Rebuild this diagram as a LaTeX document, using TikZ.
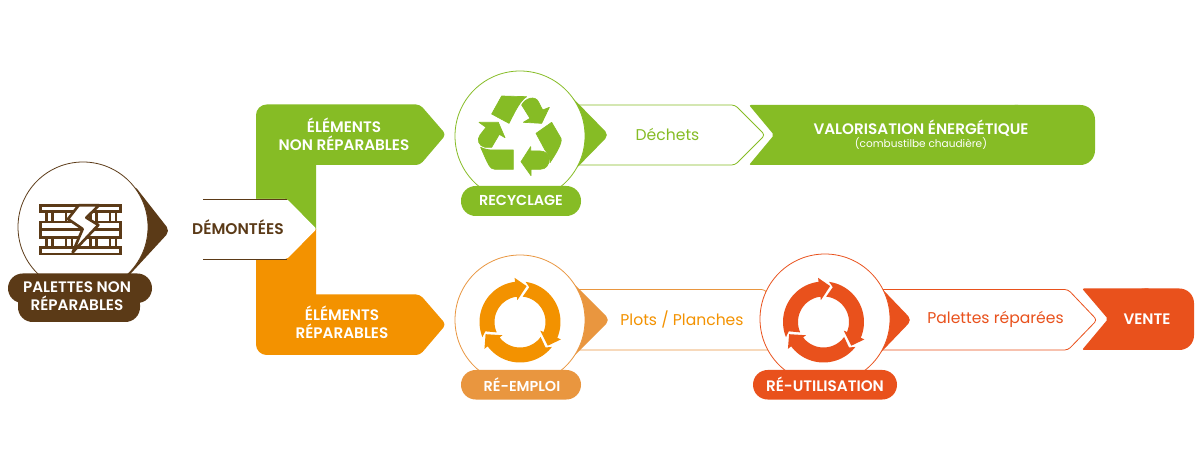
\documentclass[tikz,border=0pt]{standalone}
\usepackage{fontspec}
\setmainfont[BoldFont={Poppins SemiBold}]{Poppins}
\definecolor{cgreen}{HTML}{86BC25}
\definecolor{corange}{HTML}{F39200}
\definecolor{ctan}{HTML}{E9963F}
\definecolor{cred}{HTML}{E9511C}
\definecolor{cbrown}{HTML}{5B3A17}
\tikzset{
  circ/.style={circle,draw=#1,line width=.6pt,fill=white,minimum size=97.5pt,inner sep=0pt},
  pill/.style={rounded corners=11pt,fill=#1,draw=none},
  chev/.style={draw=#1,line width=.6pt,fill=white,rounded corners=2.5pt},
  lab/.style={inner sep=0pt,align=center,text=white,font=\fontsize{11.4}{13.2}\selectfont\bfseries},
  midlab/.style={inner sep=0pt,font=\fontsize{11.7}{13}\selectfont,text=#1},
  recy/.style={fill=cgreen,draw=cgreen,line width=.5pt,line join=round}
}
\newcommand{\cyclearrows}[3]{%
  \foreach \k in {0,120,240}{%
    \begin{scope}[shift={(#1,#2)},rotate=\k]
      \fill[#3] plot[domain=-82:23,samples=30] (\x:40.5)
        -- (23:44.5) -- (40.5:36.5) -- (23:22) -- (23:25.5)
        -- plot[domain=23:-84,samples=30] (\x:25.5)
        -- (-75:36) -- cycle;
    \end{scope}}%
}
\begin{document}
\begin{tikzpicture}[x=.75pt,y=-.75pt]
\path[use as bounding box,fill=white] (0,0) rectangle (1200,470);

% green and orange branches
\fill[cgreen] (256,230) [rounded corners=8pt] -- (256,104.5) [rounded corners=3pt] -- (420,104.5)
  -- (446,134.5) -- (420,165) [sharp corners] -- (316,165) -- (316,230) -- cycle;
\fill[corange] (256,229) -- (316,229) -- (316,294.5) [rounded corners=3pt]
  -- (420,294.5) -- (446,324.5) -- (420,355) [rounded corners=8pt] -- (256,355) [sharp corners] -- cycle;

% demontees arrow
\fill[white,rounded corners=1.5pt] (203,199) -- (287,199) -- (316.5,229) -- (287,259) -- (203,259) -- cycle;
\draw[cbrown,line width=.6pt] (203,199) -- (287,199);
\draw[cbrown,line width=.6pt] (203,259) -- (287,259);
\node[inner sep=0pt,text=cbrown,font=\fontsize{11.6}{13}\selectfont\bfseries] (dem) at (238,227.5) {DÉMONTÉES};
\node[lab] (enr) at (344,134) {ÉLÉMENTS\\NON RÉPARABLES};
\node[lab] (er) at (342,322) {ÉLÉMENTS\\RÉPARABLES};

% outlined chevrons
\draw[chev=cgreen] (560,105) -- (735,105) -- (765,135) -- (735,165) -- (560,165) -- cycle;
\draw[chev=ctan] (560,289.5) -- (765,289.5) -- (800,350) -- (560,350) -- cycle;
\draw[chev=cred] (860,289.5) -- (1068,289.5) -- (1097,320) -- (1068,350) -- (860,350) -- cycle;

% end boxes
\fill[cgreen,rounded corners=11pt] (1000,105) -- (1095,105) -- (1095,165) -- (1000,165) -- cycle;
\fill[cgreen,rounded corners=1.5pt] (749,105) -- (1020,105) -- (1020,165) -- (749,165) -- (774,135) -- cycle;
\fill[cred,rounded corners=11pt] (1130,288.5) -- (1194,288.5) -- (1194,350) -- (1130,350) -- cycle;
\fill[cred,rounded corners=1.5pt] (1082,288.5) -- (1150,288.5) -- (1150,350) -- (1082,350) -- (1108,319) -- cycle;

% pointers behind the circles
\fill[cbrown,rounded corners=4pt] (134,185) -- (170,231) -- (110,296) -- cycle;
\fill[cgreen,rounded corners=4pt] (560,85) -- (609,135) -- (560,185) -- cycle;
\fill[ctan,rounded corners=4pt] (560,270) -- (610,320) -- (560,370) -- cycle;
\fill[cred,rounded corners=4pt] (864,270) -- (912,320) -- (864,370) -- cycle;

% circles
\node[circ=cbrown] (c1) at (83,227) {};
\node[circ=cgreen] (c2) at (520,136) {};
\node[circ=ctan] (c3) at (520,320) {};
\node[circ=cred] (c4) at (825,319) {};

% pills
\fill[cbrown,rounded corners=11pt] (8,273.5) rectangle (152,303);
\fill[cbrown,rounded corners=11pt] (18,290) rectangle (140,322);
\fill[pill=cgreen] (461,186) rectangle (581,216);
\fill[pill=ctan] (461,370) rectangle (581,399.5);
\fill[pill=cred] (753,370) rectangle (897,399.5);

% pallet icon
\begin{scope}[shift={(30,195)},x=.25pt,y=-.25pt,draw=cbrown,line width=2pt]
  \draw (31,31) rectangle (272,50);
  \draw (31,81) rectangle (272,104);
  \draw (31,104) rectangle (272,128);
  \draw (31,157) rectangle (272,177);
  \foreach \a in {50,68,108,126,182,200,240,258}{
    \draw (\a,50) -- (\a,81);
    \draw (\a,128) -- (\a,157);
  }
  \draw[fill=white,line join=round] (146,31) -- (114,72) -- (158,102) -- (128,172) -- (205,90) -- (169,68) -- (207,31) -- cycle;
\end{scope}

% recycling icon
\begin{scope}[shift={(460,90)},x=.25pt,y=-.25pt]
  \path[recy] (125,18) -- (200,20) .. controls (180,32) and (165,65) .. (147,100) -- (95,72) -- cycle;
  \path[recy] (185,45) .. controls (195,25) and (225,15) .. (235,35) -- (248,60) -- (268,52) -- (245,100) -- (190,97) -- (210,85) -- cycle;
  \path[recy] (275,97) -- (303,145) .. controls (308,160) and (285,195) .. (270,218) .. controls (270,195) and (258,185) .. (255,180) -- (228,130) -- cycle;
  \path[recy] (268,205) .. controls (268,225) and (258,238) .. (240,238) -- (213,238) -- (213,257) -- (183,215) -- (212,170) -- (212,183) -- (240,183) .. controls (255,183) and (265,192) .. (268,205) -- cycle;
  \path[recy] (62,172) .. controls (75,178) and (85,180) .. (100,180) -- (160,180) -- (160,238) -- (105,238) .. controls (90,238) and (85,225) .. cycle;
  \path[recy] (57,97) -- (115,97) -- (135,143) -- (118,133) -- (95,172) -- (75,172) .. controls (55,168) and (50,148) .. (60,135) -- (78,112) -- cycle;
\end{scope}

% cycle icons
\cyclearrows{520}{322}{corange}
\cyclearrows{823.5}{322}{cred}

% labels
\node[lab] (l1) at (77,296) {PALETTES NON\\RÉPARABLES};
\node[lab,font=\fontsize{10.8}{13}\selectfont\bfseries] (l2) at (521,200) {RECYCLAGE};
\node[lab,font=\fontsize{10.8}{13}\selectfont\bfseries] (l3) at (522,384.5) {RÉ-EMPLOI};
\node[lab] (l4) at (825,384.5) {RÉ-UTILISATION};
\node[midlab=cgreen] (m1) at (667.5,134.5) {Déchets};
\node[midlab=corange] (m2) at (682,319.5) {Plots / Planches};
\node[midlab=cred] (m3) at (995.5,319.5) {Palettes réparées};
\node[lab] (v) at (921,128) {VALORISATION ÉNERGÉTIQUE};
\node[inner sep=0pt,text=white,font=\fontsize{7.9}{9}\selectfont] (v2) at (921,143.5) {(combustilbe chaudière)};
\node[lab] (vente) at (1147,319) {VENTE};
\end{tikzpicture}
\end{document}
